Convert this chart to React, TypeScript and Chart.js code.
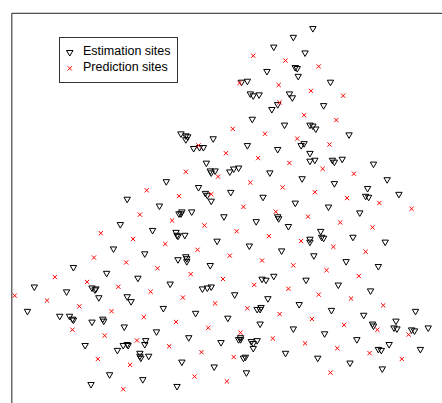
import { useEffect, useRef } from "react";
import { Chart, registerables } from "chart.js";

Chart.register(...registerables);

// map extent (x to the right, y downwards, same units as the sites)
const MAP_WIDTH = 442;
const MAP_HEIGHT = 403;
const FRAME_LEFT = 7;
const FRAME_TOP = 8.5;

// estimation sites (observed locations)
const estimationSites: [number, number][] = [
  [315, 24], [295, 33], [275, 43], [307, 49], [297, 64], [299, 65], [268, 68], [300, 73],
  [333, 79], [242, 79], [248, 78], [251, 91], [254, 93], [260, 92], [291, 91], [294, 95],
  [279, 102], [273, 107], [253, 117], [286, 123], [180, 132], [185, 134], [187, 135], [185, 138],
  [213, 137], [248, 144], [279, 148], [193, 147], [199, 146], [203, 146], [206, 162], [210, 170],
  [211, 172], [215, 170], [230, 171], [234, 168], [239, 167], [271, 172], [165, 181], [198, 187],
  [205, 193], [207, 195], [231, 192], [264, 197], [211, 201], [125, 199],
  [326, 103], [312, 123], [315, 124], [318, 127], [352, 133], [306, 142], [303, 144], [312, 152],
  [312, 160], [317, 159], [335, 159], [337, 161], [345, 158], [377, 163], [304, 178], [391, 179],
  [337, 183], [371, 188], [369, 196], [372, 197], [403, 194],
  [118, 225], [111, 250], [143, 255], [70, 269], [104, 275], [136, 280], [30, 289], [89, 290],
  [93, 291], [92, 292], [63, 294], [96, 300], [125, 299], [129, 304],
  [158, 206], [178, 214], [181, 212], [180, 214], [191, 212], [224, 217], [279, 217], [280, 219],
  [257, 222], [290, 227], [151, 231], [175, 233], [176, 236], [177, 237], [184, 236], [217, 242],
  [250, 247], [283, 252], [177, 261], [185, 258], [186, 260], [186, 263], [210, 267], [263, 281],
  [267, 282], [275, 278], [169, 286], [202, 291], [207, 290], [211, 289], [235, 297], [269, 301],
  [297, 203], [331, 207], [363, 213], [323, 232], [324, 238], [326, 239], [312, 240], [312, 243],
  [356, 238], [389, 243], [316, 257], [349, 263], [382, 268], [308, 282], [341, 287], [374, 293],
  [23, 314], [56, 319], [66, 319], [69, 322], [70, 323], [89, 325], [100, 322], [101, 324],
  [122, 330], [144, 344], [143, 348], [82, 349], [121, 349], [125, 348], [126, 349], [115, 354],
  [138, 357], [138, 360], [139, 362], [147, 360], [107, 379], [141, 384], [88, 389],
  [162, 311], [195, 316], [258, 312], [262, 310], [261, 312], [228, 321], [261, 327], [295, 332],
  [155, 335], [188, 341], [239, 343], [241, 341], [241, 343], [221, 346], [252, 345], [254, 347],
  [258, 344], [254, 352], [287, 357], [244, 362], [246, 361], [181, 366], [214, 371], [247, 377],
  [176, 391],
  [301, 307], [334, 313], [367, 318], [420, 314], [400, 324], [376, 327], [377, 329], [398, 331],
  [401, 332], [416, 333], [419, 334], [433, 331], [327, 337], [360, 343], [393, 348], [382, 353],
  [385, 354], [425, 353], [320, 362], [353, 367], [386, 373],
];

// prediction sites (grid of target locations)
const predictionSites: [number, number][] = [
  [254, 52], [287, 57], [240, 80], [280, 82], [281, 100], [321, 63], [313, 88], [346, 93],
  [145, 190], [233, 127], [266, 132], [198, 144], [226, 152], [259, 157], [291, 162], [218, 176],
  [185, 171], [251, 182], [284, 187], [211, 194], [178, 196],
  [306, 113], [339, 118], [299, 137], [332, 143], [325, 168], [357, 173], [317, 192], [350, 198],
  [138, 215], [98, 234], [131, 240], [91, 259], [124, 264], [51, 279], [84, 284], [116, 289],
  [10, 298],
  [244, 207], [171, 221], [277, 212], [204, 226], [237, 232], [270, 237], [164, 245], [197, 251],
  [230, 257], [263, 262], [295, 267], [156, 270], [190, 276], [223, 281], [255, 287], [290, 291],
  [149, 294], [182, 300],
  [383, 203], [416, 209], [310, 217], [343, 223], [376, 228], [303, 242], [336, 248], [369, 253],
  [329, 272], [362, 278], [321, 297], [354, 301],
  [43, 303], [76, 309], [109, 314], [142, 320], [69, 333], [102, 339], [135, 344], [95, 363],
  [128, 369], [121, 394],
  [215, 306], [248, 311], [281, 317], [175, 325], [208, 331], [241, 336], [274, 342], [168, 350],
  [201, 356], [234, 361], [194, 381], [227, 386],
  [387, 308], [314, 322], [347, 328], [381, 333], [413, 338], [307, 347], [340, 352], [373, 357],
  [406, 363], [333, 377],
];

const legendItems = ["Estimation sites", "Prediction sites"];

function Legend() {
  const font = '12.5px "Liberation Sans", Arial, sans-serif';
  return (
    <div
      style={{
        position: "absolute",
        left: 59,
        top: 37,
        width: 119,
        height: 46,
        boxSizing: "border-box",
        border: "1px solid #333",
        background: "#fff",
      }}
    >
      <svg width={12} height={36} style={{ position: "absolute", left: 4, top: 0 }}>
        <polygon points="2.5,12.5 9,12.5 5.75,18" fill="none" stroke="#000" strokeWidth={1} />
        <path d="M3.6,28.2 L7.9,32.5 M7.9,28.2 L3.6,32.5" stroke="#ff0000" strokeWidth={1} />
      </svg>
      {legendItems.map((label, i) => (
        <span
          key={label}
          style={{
            position: "absolute",
            left: 23,
            top: 6 + i * 16,
            lineHeight: "16px",
            font,
            color: "#000",
            whiteSpace: "nowrap",
          }}
        >
          {label}
        </span>
      ))}
    </div>
  );
}

export default function App() {
  const canvasRef = useRef<HTMLCanvasElement>(null);

  useEffect(() => {
    document.body.style.margin = "0";
    const ctx = canvasRef.current?.getContext("2d");
    if (!ctx) return;

    // open box: only left and top sides fall inside the picture
    const framePlugin = {
      id: "frame",
      beforeDatasetsDraw(chart: Chart) {
        const { ctx, scales } = chart;
        const left = scales.x.getPixelForValue(FRAME_LEFT);
        const top = scales.y.getPixelForValue(FRAME_TOP);
        ctx.save();
        ctx.strokeStyle = "#222";
        ctx.lineWidth = 1;
        ctx.beginPath();
        ctx.moveTo(left, chart.height);
        ctx.lineTo(left, top);
        ctx.lineTo(chart.width, top);
        ctx.stroke();
        ctx.restore();
      },
    };

    const chart = new Chart(ctx, {
      type: "scatter",
      data: {
        datasets: [
          {
            label: legendItems[0],
            data: estimationSites.map(([x, y]) => ({ x, y })),
            pointStyle: "triangle",
            pointRotation: 180,
            pointRadius: 3.7,
            pointBorderColor: "#000",
            pointBackgroundColor: "transparent",
            pointBorderWidth: 1,
            order: 1,
          },
          {
            label: legendItems[1],
            data: predictionSites.map(([x, y]) => ({ x, y })),
            pointStyle: "crossRot",
            pointRadius: 3,
            pointBorderColor: "#ff0000",
            pointBackgroundColor: "#ff0000",
            pointBorderWidth: 1,
            order: 0,
          },
        ],
      },
      options: {
        animation: false,
        responsive: false,
        layout: { padding: 0 },
        plugins: {
          legend: { display: false },
          tooltip: { enabled: false },
        },
        scales: {
          x: { type: "linear", display: false, min: 0, max: MAP_WIDTH },
          y: { type: "linear", display: false, min: 0, max: MAP_HEIGHT, reverse: true },
        },
      },
      plugins: [framePlugin],
    });

    return () => chart.destroy();
  }, []);

  return (
    <div style={{ position: "absolute", left: 0, top: 0, width: MAP_WIDTH, height: MAP_HEIGHT, background: "#fff" }}>
      <canvas ref={canvasRef} width={MAP_WIDTH} height={MAP_HEIGHT} />
      <Legend />
    </div>
  );
}
